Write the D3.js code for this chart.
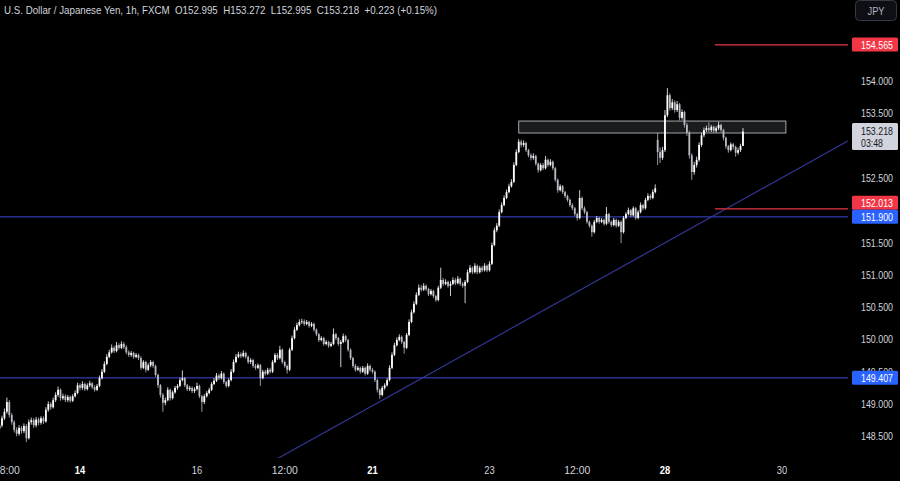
<!DOCTYPE html>
<html><head><meta charset="utf-8">
<script src="https://cdn.jsdelivr.net/npm/d3@7"></script>
<style>html,body{margin:0;padding:0;background:#000;overflow:hidden}</style>
</head><body>
<svg id="chart" width="900" height="481"></svg>
<script>
// ---- DATA ----
const closes = [
148.67,148.78,148.88,149.03,148.83,148.72,148.60,148.54,148.63,148.58,
148.66,148.47,148.72,148.75,148.67,148.76,148.71,148.78,148.73,148.91,
149.00,148.95,149.06,149.14,149.22,149.09,149.12,149.06,149.11,149.05,
149.12,149.17,149.29,149.25,149.31,149.23,149.29,149.32,149.26,149.22,
149.28,149.40,149.50,149.62,149.73,149.80,149.87,149.82,149.91,149.87,
149.93,149.88,149.80,149.76,149.79,149.73,149.76,149.71,149.56,149.65,
149.53,149.60,149.65,149.59,149.45,149.29,149.14,149.02,149.06,149.22,
149.09,149.18,149.25,149.28,149.37,149.40,149.29,149.23,149.25,149.20,
149.23,149.28,149.12,149.03,149.12,149.17,149.22,149.31,149.36,149.44,
149.40,149.47,149.34,149.28,149.37,149.50,149.65,149.73,149.77,149.74,
149.79,149.73,149.65,149.68,149.59,149.56,149.60,149.40,149.50,149.47,
149.53,149.50,149.65,149.76,149.71,149.84,149.65,149.59,149.53,149.84,
150.02,150.15,150.22,150.27,150.28,150.24,150.27,150.21,150.24,150.15,
150.08,149.99,150.02,149.93,149.96,149.90,149.93,150.08,150.02,149.93,
149.96,150.05,149.99,149.84,149.71,149.59,149.53,149.56,149.50,149.56,
149.47,149.59,149.53,149.50,149.37,149.22,149.14,149.25,149.29,149.37,
149.56,149.76,149.91,149.99,150.04,149.96,149.87,150.07,150.27,150.42,
150.55,150.69,150.80,150.77,150.83,150.78,150.70,150.75,150.67,150.61,
150.80,150.92,150.86,150.89,150.83,150.86,150.92,150.87,150.94,150.86,
150.83,150.89,151.04,151.11,151.04,151.14,151.04,151.11,151.07,151.14,
151.07,151.17,151.46,151.69,151.76,151.97,152.08,152.19,152.28,152.37,
152.44,152.70,152.90,153.06,153.01,153.04,152.93,152.85,152.81,152.84,
152.72,152.62,152.70,152.65,152.78,152.70,152.75,152.65,152.47,152.31,
152.37,152.28,152.22,152.16,152.08,152.03,151.94,151.88,152.19,152.03,
151.97,151.82,151.76,151.66,151.82,151.88,151.82,151.85,151.79,151.94,
151.82,151.77,151.85,151.76,151.82,151.66,151.88,151.94,152.00,151.92,
152.03,151.88,151.97,152.08,152.03,152.16,152.22,152.19,152.28,152.34,
152.90,152.81,152.93,153.47,153.78,153.58,153.67,153.55,153.64,153.43,
153.52,153.32,153.20,152.85,152.59,152.70,152.78,153.01,153.16,153.24,
153.27,153.24,153.29,153.23,153.27,153.32,153.24,153.12,152.99,152.93,
153.02,152.98,152.89,152.93,152.995,153.218];

const highs = [
148.72,148.82,148.93,149.10,149.06,148.86,148.75,148.64,148.67,148.66,
148.70,148.69,148.76,148.79,148.78,148.80,148.79,148.81,148.81,148.95,
149.04,149.03,149.10,149.18,149.27,149.24,149.16,149.15,149.14,149.13,
149.15,149.21,149.33,149.32,149.35,149.33,149.32,149.36,149.34,149.29,
149.31,149.44,149.54,149.66,149.77,149.84,149.92,149.90,149.96,149.94,
149.97,149.96,149.91,149.83,149.82,149.81,149.79,149.78,149.74,149.68,
149.67,149.63,149.68,149.67,149.61,149.47,149.31,149.17,149.10,149.26,
149.24,149.21,149.28,149.31,149.41,149.52,149.42,149.31,149.28,149.27,
149.26,149.33,149.30,149.14,149.15,149.20,149.25,149.34,149.40,149.48,
149.47,149.51,149.49,149.36,149.40,149.54,149.69,149.77,149.81,149.80,
149.83,149.81,149.75,149.71,149.70,149.62,149.63,149.62,149.53,149.53,
149.56,149.56,149.68,149.79,149.79,149.90,149.86,149.67,149.61,149.87,
150.06,150.19,150.26,150.31,150.32,150.31,150.30,150.29,150.27,150.26,
150.17,150.10,150.05,150.04,149.99,149.98,149.96,150.17,150.10,150.04,
149.99,150.09,150.07,150.01,149.86,149.73,149.62,149.59,149.58,149.59,
149.58,149.63,149.61,149.56,149.52,149.39,149.24,149.28,149.32,149.40,
149.60,149.80,149.95,150.03,150.08,150.06,149.98,150.10,150.31,150.46,
150.59,150.73,150.85,150.84,150.87,150.85,150.80,150.78,150.77,150.69,
150.83,151.11,150.95,150.93,150.91,150.90,150.96,150.95,150.98,150.96,
150.89,150.92,151.08,151.15,151.13,151.18,151.16,151.14,151.14,151.18,
151.16,151.21,151.50,151.73,151.80,152.01,152.12,152.23,152.32,152.41,
152.48,152.74,152.94,153.10,153.09,153.08,153.06,152.95,152.88,152.88,
152.86,152.74,152.73,152.73,152.84,152.80,152.79,152.77,152.67,152.49,
152.40,152.39,152.30,152.24,152.18,152.11,152.05,151.96,152.31,152.21,
152.06,151.99,151.84,151.78,151.85,151.91,151.90,151.88,151.87,152.05,
151.96,151.84,151.88,151.87,151.85,151.84,151.91,151.97,152.04,152.02,
152.06,152.05,152.00,152.12,152.10,152.19,152.26,152.25,152.32,152.40,
153.20,152.97,152.98,153.55,153.89,153.81,153.72,153.70,153.69,153.66,
153.56,153.54,153.35,153.23,152.88,152.75,152.83,153.05,153.20,153.28,
153.31,153.36,153.32,153.31,153.30,153.37,153.34,153.26,153.14,153.01,
153.05,153.04,153.00,152.97,153.03,153.272];

const lows = [
148.58,148.64,148.75,148.85,148.79,148.68,148.56,148.50,148.51,148.54,
148.55,148.41,148.45,148.68,148.63,148.64,148.67,148.68,148.69,148.71,
148.88,148.91,148.93,149.03,149.11,149.05,149.06,149.03,149.03,149.02,
149.03,149.10,149.15,149.21,149.22,149.20,149.21,149.26,149.23,149.19,
149.20,149.26,149.38,149.48,149.60,149.71,149.78,149.79,149.80,149.84,
149.85,149.85,149.77,149.73,149.73,149.70,149.71,149.68,149.53,149.54,
149.49,149.51,149.57,149.56,149.42,149.25,149.10,148.88,148.98,149.04,
149.05,149.07,149.16,149.22,149.26,149.35,149.26,149.20,149.20,149.17,
149.17,149.21,149.09,148.88,149.00,149.10,149.15,149.20,149.29,149.34,
149.37,149.38,149.31,149.25,149.26,149.35,149.48,149.63,149.71,149.71,
149.72,149.70,149.62,149.62,149.56,149.53,149.54,149.28,149.38,149.44,
149.45,149.47,149.48,149.63,149.68,149.69,149.62,149.56,149.47,149.51,
149.82,150.00,150.13,150.20,150.24,150.21,150.22,150.18,150.19,150.12,
150.05,149.96,149.97,149.90,149.91,149.87,149.88,149.91,149.99,149.90,
149.57,149.94,149.96,149.81,149.68,149.56,149.50,149.51,149.47,149.48,
149.44,149.45,149.50,149.47,149.34,149.18,149.08,149.12,149.22,149.27,
149.35,149.54,149.74,149.89,149.97,149.93,149.78,149.85,150.05,150.25,
150.40,150.53,150.67,150.74,150.75,150.75,150.67,150.68,150.64,150.58,
150.59,150.78,150.83,150.84,150.80,150.67,150.84,150.84,150.85,150.83,
150.80,150.56,150.87,151.02,151.01,151.02,151.01,151.02,151.04,151.05,
151.04,151.05,151.15,151.44,151.66,151.74,151.95,152.06,152.17,152.26,
152.35,152.42,152.68,152.88,152.97,152.98,152.90,152.82,152.77,152.78,
152.69,152.58,152.60,152.62,152.63,152.67,152.68,152.62,152.44,152.27,
152.29,152.25,152.19,152.13,152.05,152.00,151.91,151.84,151.86,152.00,
151.94,151.79,151.73,151.59,151.64,151.80,151.79,151.80,151.76,151.77,
151.79,151.74,151.75,151.73,151.74,151.49,151.64,151.86,151.92,151.89,
151.90,151.85,151.86,151.95,152.00,152.01,152.14,152.16,152.17,152.26,
152.70,152.73,152.78,152.90,153.44,153.54,153.55,153.51,153.52,153.39,
153.40,153.28,153.15,152.80,152.47,152.55,152.66,152.75,152.98,153.13,
153.21,153.21,153.21,153.20,153.20,153.24,153.21,153.08,152.95,152.89,
152.91,152.94,152.83,152.86,152.90,152.995];

// opens: previous close, except session opens (start and Monday gap)
const sessionOpens = {0: 148.62, 270: 153.09};

const timeTickIndex = [3, 33, 81, 117, 153, 201, 237, 273, 321];
const timeTickLabels = ["18:00", "14", "16", "12:00", "21", "23", "12:00", "28", "30"];
const timeTickBold = [false, true, false, false, true, false, false, true, false];

// 152.000 and 153.000 are fully covered by the level boxes in the reference
const priceTicks = [148.5, 149.0, 149.5, 150.0, 150.5, 151.0, 151.5, 152.5, 153.5, 154.0];

const hLinesBlue = [151.900, 149.407];
const hLinesRed = [154.565, 152.013];
const redLineStartIndex = 293.5;
const trendLine = [[113, 148.133], [348, 153.071]];
const zoneRect = {i0: 213, i1: 322.6, top: 153.38, bottom: 153.195};

const titleText = "U.S. Dollar / Japanese Yen, 1h, FXCM  O152.995  H153.272  L152.995  C153.218  +0.223 (+0.15%)";
const lastPrice = 153.218;
const countdown = "03:48";

// ---- CHART ----
const svg = d3.select("#chart");
const W = 900, H = 481, plotR = 848, plotB = 458;
const font = "'Liberation Sans','DejaVu Sans',sans-serif";

svg.append("rect").attr("width", W).attr("height", H).attr("fill", "#000");

const x = d3.scaleLinear().domain([0, 321]).range([-0.44, 781.96]);
const y = d3.scaleLinear().domain([148.5, 154]).range([436.3, 81]);

const defs = svg.append("defs");
defs.append("clipPath").attr("id", "plot").append("rect")
  .attr("x", 0).attr("y", 0).attr("width", plotR).attr("height", plotB);

const g = svg.append("g").attr("clip-path", "url(#plot)");

// horizontal blue lines (drawn as thin filled bands so the colour survives)
g.selectAll(".hb").data(hLinesBlue).enter().append("rect")
  .attr("x", 0).attr("width", plotR)
  .attr("y", d => Math.round(y(d)) - 1).attr("height", 1.6)
  .attr("fill", "#272d8a");

// trend line
g.append("line")
  .attr("x1", x(trendLine[0][0])).attr("y1", y(trendLine[0][1]))
  .attr("x2", x(trendLine[1][0])).attr("y2", y(trendLine[1][1]))
  .attr("stroke", "#343a9e").attr("stroke-width", 1.1);

// red lines
g.selectAll(".hr").data(hLinesRed).enter().append("rect")
  .attr("x", x(redLineStartIndex)).attr("width", plotR - x(redLineStartIndex))
  .attr("y", d => Math.round(y(d)) - 1).attr("height", 1.6)
  .attr("fill", "#b22a35");

// zone rectangle
g.append("rect")
  .attr("x", x(zoneRect.i0)).attr("y", y(zoneRect.top))
  .attr("width", x(zoneRect.i1) - x(zoneRect.i0))
  .attr("height", y(zoneRect.bottom) - y(zoneRect.top))
  .attr("fill", "rgba(120,123,134,0.22)").attr("stroke", "#a3a6ae").attr("stroke-width", 1);

// candles
const candles = closes.map((c, i) => ({
  i, c, h: highs[i], l: lows[i],
  o: (sessionOpens[i] !== undefined) ? sessionOpens[i] : closes[i - 1]
}));
const bw = 1.8;
const cg = g.append("g");
cg.selectAll(".wick").data(candles).enter().append("line")
  .attr("x1", d => x(d.i)).attr("x2", d => x(d.i))
  .attr("y1", d => y(d.h)).attr("y2", d => y(d.l))
  .attr("stroke", d => d.c >= d.o ? "#e0e2e8" : "#a6a9b2").attr("stroke-width", 0.9);
cg.selectAll(".body").data(candles).enter().append("rect")
  .attr("x", d => x(d.i) - bw / 2)
  .attr("y", d => y(Math.max(d.o, d.c)))
  .attr("width", bw)
  .attr("height", d => Math.max(0.8, Math.abs(y(d.o) - y(d.c))))
  .attr("fill", d => d.c >= d.o ? "#ffffff" : "#b8bbc3");

// title
svg.append("text").attr("x", 4).attr("y", 14)
  .attr("fill", "#d1d4dc").attr("font-size", 11.5).attr("font-family", font)
  .attr("textLength", 433).attr("lengthAdjust", "spacingAndGlyphs")
  .attr("xml:space", "preserve")
  .text(titleText);

// JPY button
svg.append("rect").attr("x", 855.5).attr("y", 0.5).attr("width", 41).attr("height", 20).attr("rx", 4)
  .attr("fill", "#0e0f14").attr("stroke", "#363a45");
svg.append("text").attr("x", 876).attr("y", 14.5).attr("text-anchor", "middle")
  .attr("fill", "#b2b5be").attr("font-size", 10.5).attr("font-family", font)
  .attr("textLength", 17).attr("lengthAdjust", "spacingAndGlyphs").text("JPY");

// price axis labels
function axisText(val, yy, fill) {
  return svg.append("text").attr("x", 861).attr("y", yy)
    .attr("fill", fill).attr("font-size", 11).attr("font-family", font)
    .attr("textLength", 32).attr("lengthAdjust", "spacingAndGlyphs")
    .text(d3.format(".3f")(val));
}
priceTicks.forEach(d => axisText(d, y(d) + 4, "#d1d4dc"));

// price boxes
function priceBox(val, cy, fill, txtFill) {
  svg.append("rect").attr("x", 852).attr("y", cy - 7).attr("width", 46).attr("height", 14).attr("rx", 1.5)
    .attr("fill", fill);
  axisText(val, cy + 4, txtFill);
}
priceBox(hLinesRed[0], y(hLinesRed[0]), "#f23645", "#ffffff");
priceBox(hLinesRed[1], y(hLinesRed[1]) - 6.5, "#f23645", "#ffffff");
priceBox(hLinesBlue[0], y(hLinesBlue[0]), "#2962ff", "#ffffff");
priceBox(hLinesBlue[1], y(hLinesBlue[1]), "#2962ff", "#ffffff");

// last price box
const ly = y(lastPrice);
svg.append("rect").attr("x", 852).attr("y", ly - 8.5).attr("width", 46).attr("height", 27).attr("rx", 1.5)
  .attr("fill", "#d1d4dc");
axisText(lastPrice, ly + 3.5, "#131722");
svg.append("text").attr("x", 861).attr("y", ly + 15.5)
  .attr("fill", "#131722").attr("font-size", 11).attr("font-family", font)
  .attr("textLength", 22).attr("lengthAdjust", "spacingAndGlyphs")
  .text(countdown);

// time axis
svg.append("g").selectAll("text").data(timeTickIndex).enter().append("text")
  .attr("x", d => x(d)).attr("y", 474).attr("text-anchor", "middle")
  .attr("fill", (d, k) => timeTickBold[k] ? "#ffffff" : "#d1d4dc")
  .attr("font-weight", (d, k) => timeTickBold[k] ? "bold" : "normal")
  .attr("font-size", 11).attr("font-family", font)
  .attr("textLength", (d, k) => timeTickLabels[k].length * 5.2)
  .attr("lengthAdjust", "spacingAndGlyphs")
  .text((d, k) => timeTickLabels[k]);
</script>
</body></html>
